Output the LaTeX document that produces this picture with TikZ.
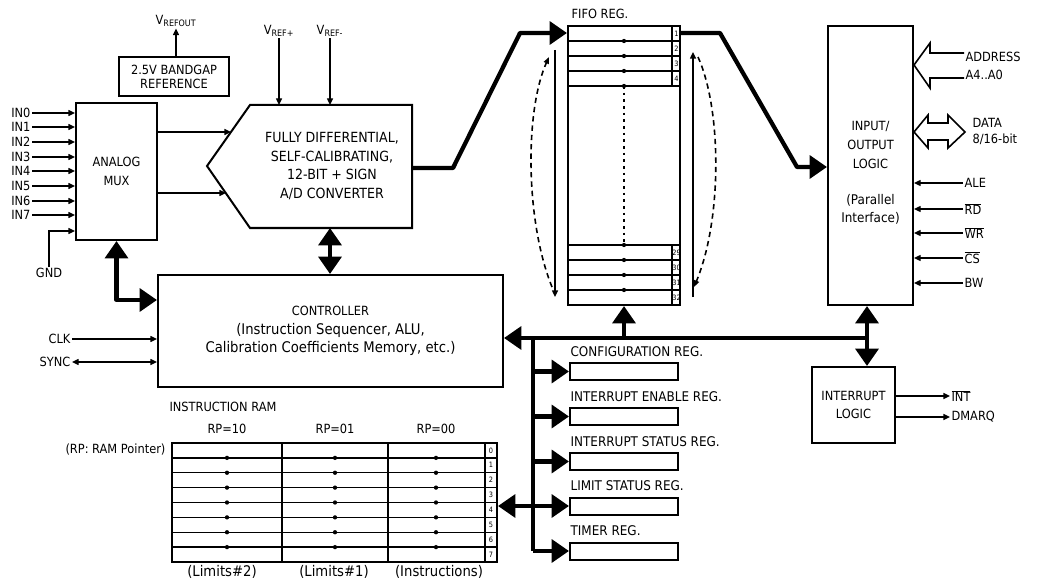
\documentclass[tikz,border=0pt]{standalone}
\usepackage{fontspec}
\setmainfont{DejaVu Sans}[FakeStretch=0.9]
\usetikzlibrary{arrows.meta,positioning}
\newcommand\fnorm{\fontsize{9.5}{14}\selectfont}
\newcommand\fbig{\fontsize{10.5}{14}\selectfont}
\newcommand\flow{\fontsize{11}{14}\selectfont}
\newcommand\fsmall{\fontsize{10}{13.5}\selectfont}
\newcommand\ftiny{\fontsize{5.5}{6}\selectfont}
\begin{document}
\begin{tikzpicture}[x=0.75pt, y=-0.75pt, font=\fnorm,
    sz/.style 2 args={minimum width=#1*0.75pt, minimum height=#2*0.75pt},
    box/.style={draw, line width=1.5pt, inner sep=1pt, align=center},
    lbl/.style={inner sep=1pt, align=center},
    thin/.style={line width=1pt},
    sig/.style={line width=1pt, -{Triangle[length=5pt, width=4.5pt]}},
    sigboth/.style={line width=1pt, {Triangle[length=5pt, width=4.5pt]}-{Triangle[length=5pt, width=4.5pt]}},
    bus/.style={line width=3.2pt, line join=round, -{Triangle[length=13pt, width=17pt]}},
    dbus/.style={line width=3.2pt, line join=round, {Triangle[length=13pt, width=17pt]}-{Triangle[length=13pt, width=17pt]}},
    trunk/.style={line width=3.2pt},
    hollow/.style={line width=1.2pt, line join=miter},
    circ/.style={line width=1.2pt, dash pattern=on 4pt off 3pt, -{Triangle[length=5pt, width=4pt]}}]
    \useasboundingbox (0,0) rectangle (1046,588);

    \node[box, sz={110}{39}, font=\fontsize{9.5}{10.5}\selectfont] (bandgap) at (174,76.5) {2.5V BANDGAP\\REFERENCE};
    \node[lbl] (vrefout) at (176,21) {V\textsubscript{REFOUT}};
    \draw[sig] (bandgap.north -| vrefout) -- (vrefout.south);

    \node[box, sz={81}{137}] (mux) at (116.5,171.5) {ANALOG\\MUX};
    \foreach \i/\y in {0/113,1/127,2/142,3/157,4/171,5/186,6/201,7/215} {
        \node[lbl, anchor=east] (in\i) at (32,\y) {IN\i};
        \draw[sig] (in\i.east) -- (in\i.east -| mux.west);
    }
    \node[lbl] (gnd) at (49,273) {GND};
    \coordinate (gndin) at (76,231);
    \draw[sig] (gnd.north) |- (mux.west |- gndin);

    \coordinate (adcW) at (207,166);
    \coordinate (adcE) at (412,168);
    \coordinate (adcS) at (330,228);
    \draw[line width=1.5pt, line join=miter] (adcW) -- (250,105) -- (412,105) -- (412,228) -- (250,228) -- cycle;
    \node[lbl, font=\fbig] (adc) at (332,166) {FULLY DIFFERENTIAL,\\SELF-CALIBRATING,\\12-BIT + SIGN\\A/D CONVERTER};
    \draw[sig] (mux.east |- 0,132) -- (231,132);
    \draw[sig] (mux.east |- 0,193) -- (226,193);
    \node[lbl] (vrefp) at (279,31) {V\textsubscript{REF+}};
    \node[lbl] (vrefm) at (330,31) {V\textsubscript{REF-}};
    \draw[sig] (vrefp.south) -- (vrefp.south |- 0,105);
    \draw[sig] (vrefm.south) -- (vrefm.south |- 0,105);

    \node[box, sz={112}{279}] (fifo) at (624,165.5) {};
    \node[lbl] (fifolbl) at (600,14) {FIFO REG.};
    \foreach \y in {41,56,71,86,245,260,275,290} {
        \draw[thin] (fifo.west |- 0,\y) -- (fifo.east |- 0,\y);
        \fill (624,\y) circle (1.6pt);
    }
    \draw[thin] (672,26) -- (672,86);
    \draw[thin] (672,245) -- (672,305);
    \foreach \n/\y in {1/33.5,2/48.5,3/63.5,4/78.5,29/252.5,30/267.5,31/282.5,32/297.5}
        \node[font=\ftiny, inner sep=0pt] (f\n) at (676.5,\y) {\n};
    \draw[thin, dash pattern=on 2pt off 3pt] (624,86) -- (624,245);
    \draw[sig] (555,50) -- (555,297);
    \draw[sig] (693,297) -- (693,52);
    \draw[circ] (552,287) .. controls (525,220) and (525,110) .. (549,57);
    \draw[circ] (698,57) .. controls (722,110) and (722,220) .. (694,287);

    \node[box, sz={85}{279}] (io) at (870.5,165.5) {};
    \node[lbl] (iotxt) at (870.5,145) {INPUT/\\OUTPUT\\LOGIC};
    \node[lbl, font=\fsmall] (iopar) at (870.5,209) {(Parallel\\Interface)};

    \draw[bus] (adcE) -- (453,168) -- (520,33) -- (fifo.west |- 0,33);
    \draw[bus] (fifo.east |- 0,33) -- (720,33) -- (797,167) -- (io.west |- 0,167);

    \node[lbl, anchor=west] (addr) at (964,57) {ADDRESS};
    \node[lbl, anchor=west] (addrbits) at (964,75) {A4..A0};
    \draw[hollow] (addr.west |- 0,53) -- (930,53) -- (930,43) -- (io.east |- 0,65) -- (930,88) -- (930,78) -- (addrbits.west |- 0,78);
    \node[lbl, anchor=west] (data) at (971,123) {DATA};
    \node[lbl, anchor=west] (databits) at (971,139) {8/16-bit};
    \draw[hollow] (io.east |- 0,132) -- (928,115) -- (928,123) -- (948,123) -- (948,115) -- (965,132) -- (948,148) -- (948,140) -- (928,140) -- (928,148) -- cycle;
    \foreach \n/\y/\t in {ale/183/ALE, rd/209/$\overline{\mbox{RD}}$, wr/233/$\overline{\mbox{WR}}$, cs/258/$\overline{\mbox{CS}}$, bw/283/BW} {
        \node[lbl, anchor=west] (\n) at (963,\y) {\t};
        \draw[sig] (\n.west) -- (\n.west -| io.east);
    }

    \node[box, sz={345}{112}] (ctrl) at (330.5,331) {CONTROLLER\\\flow(Instruction Sequencer, ALU,\\\flow Calibration Coefficients Memory, etc.)};
    \draw[dbus] (adcS) -- (adcS |- ctrl.north);
    \draw[dbus] (mux.south) |- (ctrl.west |- 0,300);
    \node[lbl, anchor=east] (clk) at (72,339) {CLK};
    \node[lbl, anchor=east] (sync) at (72,362) {SYNC};
    \draw[sig] (clk.east) -- (clk.east -| ctrl.west);
    \draw[sigboth] (sync.east) -- (sync.east -| ctrl.west);

    \node[box, sz={83}{76}] (intl) at (853.5,405) {INTERRUPT\\LOGIC};
    \node[lbl, anchor=west] (int) at (950,396) {$\overline{\mbox{INT}}$};
    \node[lbl, anchor=west] (dmarq) at (950,417) {DMARQ};
    \draw[sig] (intl.east |- int.west) -- (int.west);
    \draw[sig] (intl.east |- dmarq.west) -- (dmarq.west);

    \coordinate (busR) at (867,338);
    \coordinate (trunkT) at (533,338);
    \draw[bus] (busR) -- (busR -| ctrl.east);
    \draw[bus] (busR) -- (busR |- io.south);
    \draw[bus] (busR) -- (busR |- intl.north);
    \draw[bus] (fifo.south |- busR) -- (fifo.south);
    \draw[trunk] (trunkT) -- (533,551);

    \foreach \n/\y/\t in {1/371.5/CONFIGURATION REG., 2/416.5/INTERRUPT ENABLE REG., 3/461.5/INTERRUPT STATUS REG., 4/506/LIMIT STATUS REG., 5/551/TIMER REG.} {
        \node[box, sz={108}{17}] (reg\n) at (624,\y) {};
        \node[lbl, anchor=south west, font=\fontsize{10}{12}\selectfont] (reglbl\n) at ([yshift=3pt]reg\n.north west) {\t};
        \draw[bus] (trunkT |- reg\n.west) -- (reg\n.west);
    }

    \node[lbl, anchor=west] (ramlbl) at (168,407) {INSTRUCTION RAM};
    \node[lbl] (rp10) at (227,429) {RP=10};
    \node[lbl] (rp01) at (335,429) {RP=01};
    \node[lbl] (rp00) at (436,429) {RP=00};
    \node[lbl, anchor=east] (rpkey) at (167,450) {(RP: RAM Pointer)};
    \node[draw, line width=1.5pt, sz={325}{119}] (ram) at (334.5,502.5) {};
    \foreach \k [evaluate=\k as \yy using 443+14.875*\k] in {1,...,7} {
        \draw[thin] (ram.west |- 0,\yy) -- (ram.east |- 0,\yy);
        \foreach \x in {227,335,436} \fill (\x,\yy) circle (1.6pt);
    }
    \foreach \x in {282,388} \draw[line width=1.5pt] (ram.north -| \x,0) -- (ram.south -| \x,0);
    \draw[thin] (ram.north -| 485,0) -- (ram.south -| 485,0);
    \foreach \k [evaluate=\k as \yy using 450.4+14.875*\k] in {0,...,7}
        \node[font=\ftiny, inner sep=0pt] (ri\k) at (491,\yy) {\k};
    \node[lbl, font=\flow] (lim2) at (222,572) {(Limits\#2)};
    \node[lbl, font=\flow] (lim1) at (334,572) {(Limits\#1)};
    \node[lbl, font=\flow] (instr) at (439,572) {(Instructions)};
    \draw[bus] (trunkT |- 0,506) -- (ram.east |- 0,506);
\end{tikzpicture}
\end{document}
